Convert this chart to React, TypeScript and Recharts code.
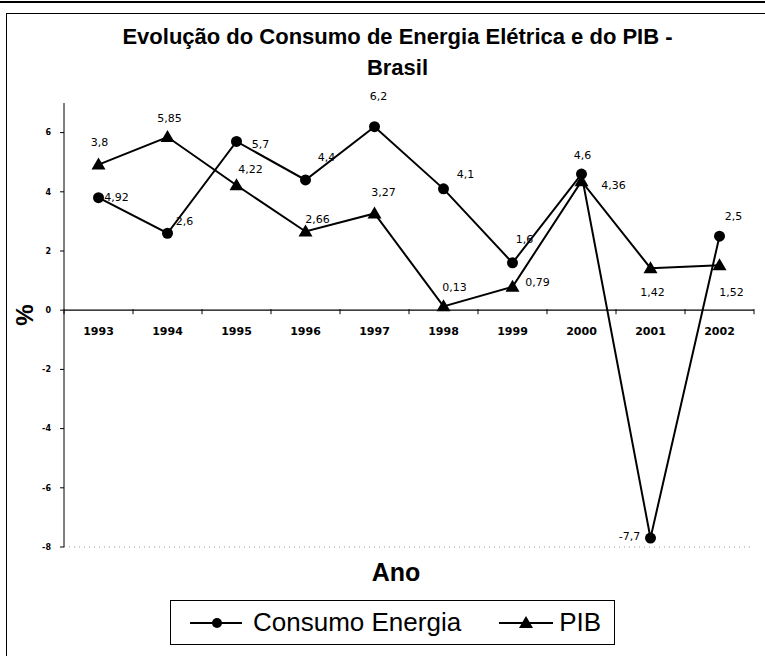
import React from "react"
import { LabelList, Line, LineChart, ReferenceDot, ReferenceLine, XAxis, YAxis } from "recharts"

const years = ["1993", "1994", "1995", "1996", "1997", "1998", "1999", "2000", "2001", "2002"]
const consumoEnergia = [3.8, 2.6, 5.7, 4.4, 6.2, 4.1, 1.6, 4.6, -7.7, 2.5]
const pib = [4.92, 5.85, 4.22, 2.66, 3.27, 0.13, 0.79, 4.36, 1.42, 1.52]
// labels as printed in the original (the 1993 ones are swapped there)
const consumoLabels = ["4,92", "2,6", "5,7", "4,4", "6,2", "4,1", "1,6", "4,6", "-7,7", "2,5"]
const pibLabels = ["3,8", "5,85", "4,22", "2,66", "3,27", "0,13", "0,79", "4,36", "1,42", "1,52"]
const yTicks = [-8, -6, -4, -2, 0, 2, 4, 6]

// where each data label sits relative to its point (dx, dy)
const consumoOffsets = [[18, 0], [17, -12], [24, 3], [21, -22], [4, -30], [22, -14], [12, -23], [1, -19], [-21, -2], [14, -20]]
const pibOffsets = [[1, -22], [2, -19], [14, -16], [12, -12], [9, -21], [11, -19], [25, -4], [32, 4], [2, 24], [12, 27]]

const chartData = years.map((year, i) => ({
  year,
  consumo: consumoEnergia[i],
  pib: pib[i],
}))

const labelFont = "'DejaVu Sans', Verdana, sans-serif"
const titleFont = "'Liberation Sans', Arial, sans-serif"

function CircleDot(props: any) {
  const { cx, cy } = props
  if (cx == null || cy == null) return null
  return <circle cx={cx} cy={cy} r={5.5} fill="#000" />
}

function TriangleDot(props: any) {
  const { cx, cy } = props
  if (cx == null || cy == null) return null
  return <path d={`M${cx},${cy - 7} L${cx + 7},${cy + 5} L${cx - 7},${cy + 5} Z`} fill="#000" />
}

function makeLabel(texts: string[], offsets: number[][]) {
  return (props: any) => {
    const { x, y, index } = props
    const [dx, dy] = offsets[index]
    return (
      <text
        x={x + dx}
        y={y + dy}
        textAnchor="middle"
        dominantBaseline="central"
        fontSize={11}
        fontFamily={labelFont}
        fill="#000"
      >
        {texts[index]}
      </text>
    )
  }
}

function ZeroAxis(props: any) {
  const { x1, x2, y1 } = props
  const step = (x2 - x1) / years.length
  return (
    <g>
      <line x1={x1} x2={x2} y1={y1} y2={y1} stroke="#000" strokeWidth={1.2} />
      {Array.from({ length: years.length + 1 }, (_, i) => (
        <line key={i} x1={x1 + i * step} x2={x1 + i * step} y1={y1 - 1} y2={y1 + 4} stroke="#000" strokeWidth={1} />
      ))}
    </g>
  )
}

function LegendBox() {
  return (
    <div
      style={{
        position: "absolute",
        left: 170,
        top: 600,
        width: 445,
        height: 45,
        border: "1px solid #000",
        display: "flex",
        alignItems: "center",
        fontFamily: titleFont,
        fontSize: 26,
        color: "#000",
        boxSizing: "border-box",
        background: "#fff",
      }}
    >
      <svg width={76} height={20} style={{ marginLeft: 17 }}>
        <line x1={2} x2={54} y1={10} y2={10} stroke="#000" strokeWidth={2} />
        <circle cx={29} cy={10} r={5} fill="#000" />
      </svg>
      <span style={{ marginLeft: -11 }}>Consumo Energia</span>
      <svg width={58} height={20} style={{ marginLeft: 36 }}>
        <line x1={2} x2={56} y1={10} y2={10} stroke="#000" strokeWidth={2} />
        <path d="M29,3 L36,15 L22,15 Z" fill="#000" />
      </svg>
      <span style={{ marginLeft: 4 }}>PIB</span>
    </div>
  )
}

export default function App() {
  return (
    <div style={{ position: "absolute", left: 0, top: 0, width: 765, height: 656, background: "#fff", overflow: "hidden" }}>
      {/* frame (scanned page edge: top and left only) */}
      <div style={{ position: "absolute", left: 0, top: 1, width: 765, height: 2, background: "#000" }} />
      <div style={{ position: "absolute", left: 6, top: 13, width: 770, height: 660, borderTop: "1px solid #000", borderLeft: "1px solid #000" }} />

      <div
        style={{
          position: "absolute",
          left: 0,
          top: 21,
          width: 795,
          textAlign: "center",
          fontFamily: titleFont,
          fontWeight: "bold",
          fontSize: 22,
          lineHeight: "31px",
          color: "#000",
        }}
      >
        <div>Evolução do Consumo de Energia Elétrica e do PIB -</div>
        <div>Brasil</div>
      </div>

      <div
        style={{
          position: "absolute",
          left: 25,
          top: 315,
          transform: "translate(-50%, -50%) rotate(-90deg)",
          fontFamily: titleFont,
          fontWeight: "bold",
          fontSize: 24,
          color: "#000",
        }}
      >
        %
      </div>

      <div
        style={{
          position: "absolute",
          left: 396,
          top: 572,
          transform: "translate(-50%, -50%)",
          fontFamily: titleFont,
          fontWeight: "bold",
          fontSize: 25,
          color: "#000",
        }}
      >
        Ano
      </div>

      <div style={{ position: "absolute", left: 0, top: 0 }}>
        <LineChart width={765} height={656} data={chartData} margin={{ top: 103, right: 11, bottom: 109, left: 24 }}>
          <XAxis dataKey="year" type="category" hide padding={{ left: 34.5, right: 34.5 }} />
          <YAxis
            type="number"
            domain={[-8, 7]}
            ticks={yTicks}
            width={40}
            axisLine={{ stroke: "#000", strokeWidth: 1 }}
            tickLine={{ stroke: "#000" }}
            tickSize={4}
            tickMargin={9}
            tick={{ fontSize: 8, fontWeight: "bold", fill: "#000", fontFamily: labelFont }}
            allowDataOverflow
          />
          <ReferenceLine y={-8} stroke="#999" strokeDasharray="1 4" />
          <ReferenceLine y={0} shape={<ZeroAxis />} />
          {years.map((year) => (
            <ReferenceDot
              key={year}
              x={year}
              y={0}
              r={0}
              fill="none"
              stroke="none"
              label={{ value: year, position: "bottom", offset: 17, fontSize: 11, fontWeight: "bold", fill: "#000", fontFamily: labelFont }}
            />
          ))}
          <Line
            type="linear"
            dataKey="consumo"
            name="Consumo Energia"
            stroke="#000"
            strokeWidth={2}
            dot={<CircleDot />}
            activeDot={false}
            isAnimationActive={false}
          >
            <LabelList dataKey="consumo" content={makeLabel(consumoLabels, consumoOffsets)} />
          </Line>
          <Line
            type="linear"
            dataKey="pib"
            name="PIB"
            stroke="#000"
            strokeWidth={2}
            dot={<TriangleDot />}
            activeDot={false}
            isAnimationActive={false}
          >
            <LabelList dataKey="pib" content={makeLabel(pibLabels, pibOffsets)} />
          </Line>
        </LineChart>
      </div>
      <LegendBox />
    </div>
  )
}
